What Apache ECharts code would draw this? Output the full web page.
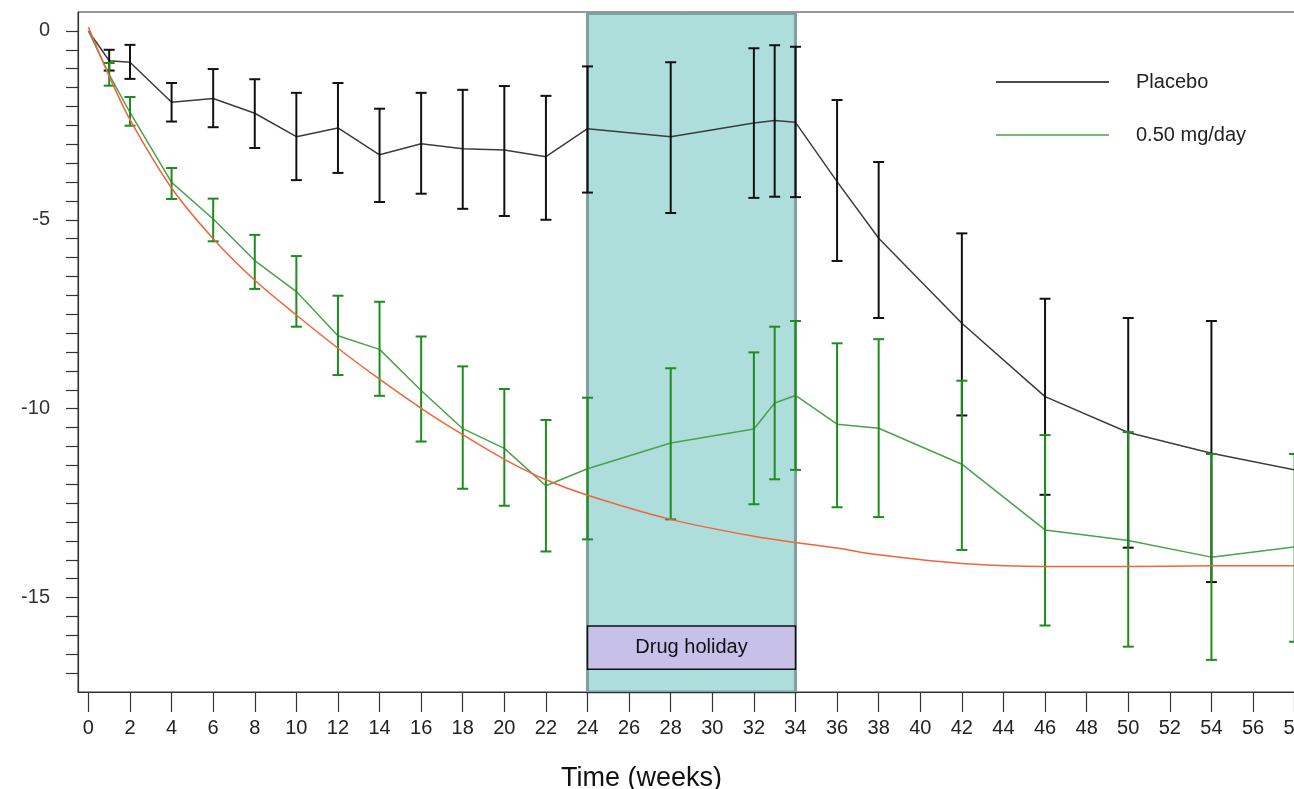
<!DOCTYPE html>
<html>
<head>
<meta charset="utf-8">
<script src="https://cdn.jsdelivr.net/npm/echarts@6/dist/echarts.min.js"></script>
<style>
html,body{margin:0;padding:0;background:#fff;}
#c{width:1294px;height:789px;}
</style>
</head>
<body>
<div id="c"></div>
<script>
// ---- data ----
const weeks = [0,1,2,4,6,8,10,12,14,16,18,20,22,24,28,32,33,34,36,38,42,46,50,54,58];
const placeboMean = [0,-0.79,-0.83,-1.89,-1.79,-2.18,-2.80,-2.57,-3.28,-2.99,-3.12,-3.15,-3.33,-2.59,-2.80,-2.44,-2.37,-2.42,-3.99,-5.49,-7.74,-9.68,-10.63,-11.18,-11.62];
const placeboUpper = [null,-0.50,-0.37,-1.38,-1.01,-1.28,-1.64,-1.38,-2.06,-1.64,-1.56,-1.46,-1.72,-0.94,-0.83,-0.46,-0.38,-0.42,-1.83,-3.47,-5.36,-7.09,-7.60,-7.68,null];
const placeboLower = [null,-1.05,-1.27,-2.40,-2.55,-3.10,-3.95,-3.76,-4.53,-4.31,-4.71,-4.90,-5.00,-4.28,-4.82,-4.42,-4.39,-4.40,-6.09,-7.60,-10.18,-12.28,-13.68,-14.59,null];
const doseMean = [0,-1.16,-2.16,-4.01,-4.98,-6.08,-6.90,-8.07,-8.43,-9.52,-10.53,-11.05,-12.04,-11.59,-10.91,-10.54,-9.85,-9.65,-10.41,-10.52,-11.47,-13.21,-13.49,-13.93,-13.66];
const doseUpper = [null,-0.85,-1.75,-3.63,-4.44,-5.40,-5.96,-7.01,-7.17,-8.09,-8.88,-9.48,-10.30,-9.71,-8.93,-8.51,-7.83,-7.68,-8.27,-8.16,-9.26,-10.70,-10.62,-11.20,-11.20];
const doseLower = [null,-1.45,-2.51,-4.45,-5.57,-6.83,-7.83,-9.11,-9.66,-10.87,-12.12,-12.57,-13.78,-13.46,-12.93,-12.53,-11.87,-11.62,-12.61,-12.87,-13.74,-15.74,-16.30,-16.65,-16.17];
const modelWeeks = [0,1,2,4,6,8,10,12,14,16,18,20,22,24,28,32,34,36,38,42,46,50,54,58];
const modelFit = [0.1,-1.2,-2.35,-4.16,-5.5,-6.6,-7.52,-8.40,-9.22,-9.99,-10.69,-11.34,-11.88,-12.29,-12.93,-13.38,-13.54,-13.69,-13.87,-14.10,-14.18,-14.18,-14.16,-14.16];
const xTicks = [0,2,4,6,8,10,12,14,16,18,20,22,24,26,28,30,32,34,36,38,40,42,44,46,48,50,52,54,56,58];
const yTicks = [0,-0.5,-1,-1.5,-2,-2.5,-3,-3.5,-4,-4.5,-5,-5.5,-6,-6.5,-7,-7.5,-8,-8.5,-9,-9.5,-10,-10.5,-11,-11.5,-12,-12.5,-13,-13.5,-14,-14.5,-15,-15.5,-16,-16.5,-17];
const yLabels = [0,-5,-10,-15];
const holidayStart = 24, holidayEnd = 34;
const seriesNames = ['Placebo','0.50 mg/day'];

// ---- build ----
const pairs = (xs, ys) => xs.map((x,i)=>[x, ys[i]]);
const errData = (lo, hi) => weeks.map((w,i)=> hi[i]==null ? null : [w, hi[i], lo[i]]).filter(d=>d);

function errRender(color){
  return function(params, api){
    const top = api.coord([api.value(0), api.value(1)]);
    const bot = api.coord([api.value(0), api.value(2)]);
    const hw = 5.5;
    const st = {stroke: color, lineWidth: 2};
    return {type:'group', children:[
      {type:'line', shape:{x1:top[0],y1:top[1],x2:bot[0],y2:bot[1]}, style:st},
      {type:'line', shape:{x1:top[0]-hw,y1:top[1],x2:top[0]+hw,y2:top[1]}, style:st},
      {type:'line', shape:{x1:bot[0]-hw,y1:bot[1],x2:bot[0]+hw,y2:bot[1]}, style:st}
    ]};
  };
}

const font = 'Liberation Sans, Arial, sans-serif';
const chart = echarts.init(document.getElementById('c'));
chart.setOption({
  animation:false,
  backgroundColor:'#fff',
  title:{text:'Time (weeks)', left:556, top:760, textStyle:{fontFamily:font, fontSize:27, fontWeight:'normal', color:'#111'}},
  legend:[
    {data:[seriesNames[0]], left:996, top:72, orient:'vertical', icon:'rect', itemWidth:113, itemHeight:1.5, padding:0,
     textStyle:{fontFamily:font, fontSize:20, color:'#222', padding:[0,0,0,22]}},
    {data:[seriesNames[1]], left:996, top:125, orient:'vertical', icon:'rect', itemWidth:113, itemHeight:1.5, padding:0,
     textStyle:{fontFamily:font, fontSize:20, color:'#222', padding:[0,0,0,22]}}
  ],
  grid:{left:78, top:12, right:-11, bottom:97, outerBoundsMode:'none', containLabel:false,
        show:true, borderColor:'#333', borderWidth:1, backgroundColor:'transparent'},
  xAxis:{type:'value', min:-0.5, max:58.5, splitLine:{show:false},
    axisLine:{onZero:false, lineStyle:{color:'#333', width:1.2}},
    axisTick:{customValues:xTicks, length:20, lineStyle:{color:'#333', width:1.2}},
    axisLabel:{customValues:xTicks, margin:26, fontFamily:font, fontSize:20, color:'#222'}
  },
  yAxis:{type:'value', min:-17.5, max:0.5, splitLine:{show:false},
    axisLine:{show:true, onZero:false, lineStyle:{color:'#333', width:1.2}},
    axisTick:{show:true, customValues:yTicks, length:12, lineStyle:{color:'#333', width:1.2}},
    axisLabel:{customValues:yLabels, margin:28, fontFamily:font, fontSize:20, color:'#333'}
  },
  series:[
    {type:'custom', name:'holiday', z:0, silent:true, data:[[holidayStart, holidayEnd]],
     renderItem:(params, api)=>{
       const a = api.coord([api.value(0), 0]);
       const b = api.coord([api.value(1), 0]);
       const cs = params.coordSys;
       return {type:'rect', shape:{x:a[0], y:cs.y+1.5, width:b[0]-a[0], height:cs.height-1.5},
         style:{fill:'#addedb', stroke:'#819f9f', lineWidth:3}};
     }},
    {type:'custom', name:'holidayLabel', z:1, silent:true, data:[[holidayStart, holidayEnd]],
     renderItem:(params, api)=>{
       const a = api.coord([api.value(0), -15.75]);
       const b = api.coord([api.value(1), -16.9]);
       return {type:'group', children:[
         {type:'rect', shape:{x:a[0], y:a[1], width:b[0]-a[0], height:b[1]-a[1]},
          style:{fill:'#c7c0e8', stroke:'#111', lineWidth:1.5}},
         {type:'text', style:{x:(a[0]+b[0])/2, y:(a[1]+b[1])/2, text:'Drug holiday', align:'center', verticalAlign:'middle',
           font:'20px ' + font, fill:'#111'}}
       ]};
     }},
    {type:'line', name:seriesNames[0], z:3, data:pairs(weeks, placeboMean), showSymbol:false, symbol:'none',
     lineStyle:{color:'#3c3c3c', width:1.5}, itemStyle:{color:'#111'}},
    {type:'custom', name:'placeboErr', z:4, data:errData(placeboLower, placeboUpper), renderItem:errRender('#111')},
    {type:'line', name:seriesNames[1], z:3, data:pairs(weeks, doseMean), showSymbol:false, symbol:'none',
     lineStyle:{color:'#4aa24a', width:1.5}, itemStyle:{color:'#4aa24a'}},
    {type:'custom', name:'doseErr', z:4, data:errData(doseLower, doseUpper), renderItem:errRender('#1e8c1e')},
    {type:'line', name:'model', z:5, data:pairs(modelWeeks, modelFit), showSymbol:false, symbol:'none', smooth:0.3,
     lineStyle:{color:'#f2643a', width:1.5}, itemStyle:{color:'#f2643a'}}
  ]
});
</script>
</body>
</html>
